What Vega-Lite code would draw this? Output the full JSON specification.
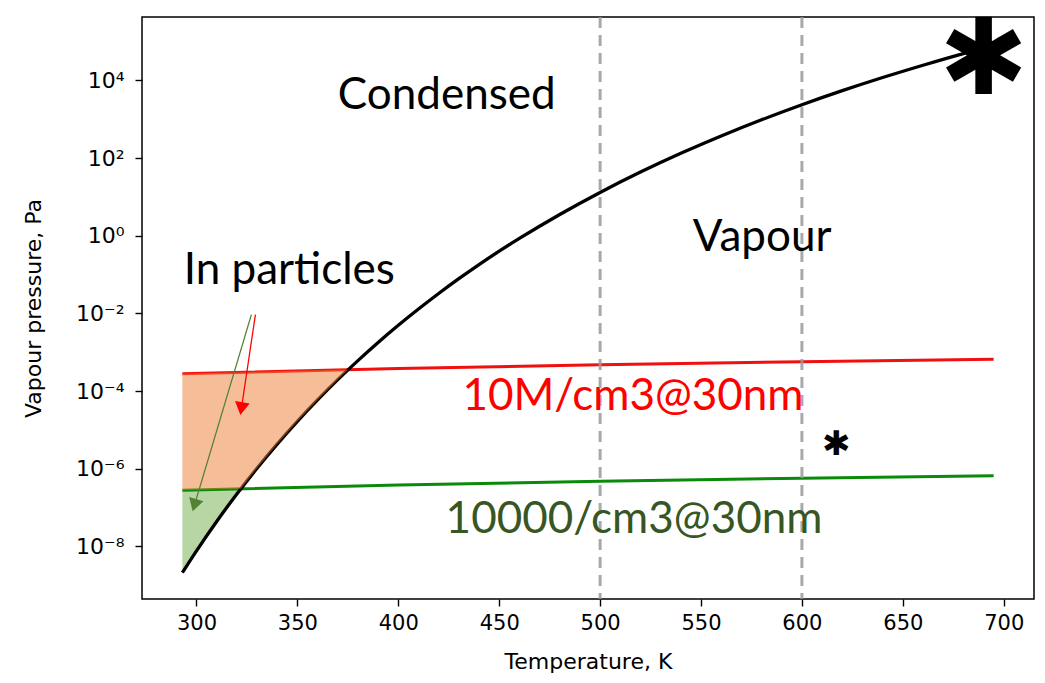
{
  "$schema": "https://vega.github.io/schema/vega-lite/v6.json",
  "width": 892,
  "height": 582,
  "autosize": {"type": "none"},
  "padding": {"left": 142, "top": 17, "right": 11, "bottom": 84},
  "background": "white",
  "config": {
    "view": {"stroke": "black", "strokeWidth": 1.5},
    "axis": {
      "grid": false,
      "domain": false,
      "tickColor": "black",
      "tickSize": 7,
      "tickWidth": 1.4,
      "labelColor": "black",
      "labelFont": "DejaVu Sans",
      "labelFontSize": 21,
      "titleFont": "DejaVu Sans",
      "titleFontSize": 22,
      "titleFontWeight": "normal",
      "titleColor": "black"
    }
  },
  "datasets": {
    "curve": [
      {"T": 293, "p": 2.10e-9}, {"T": 300, "p": 7.67e-9}, {"T": 310, "p": 4.39e-8},
      {"T": 320, "p": 2.23e-7}, {"T": 330, "p": 1.03e-6}, {"T": 340, "p": 4.31e-6},
      {"T": 350, "p": 1.66e-5}, {"T": 360, "p": 5.90e-5}, {"T": 370, "p": 1.96e-4},
      {"T": 380, "p": 6.08e-4}, {"T": 390, "p": 1.78e-3}, {"T": 400, "p": 4.92e-3},
      {"T": 410, "p": 1.29e-2}, {"T": 420, "p": 3.24e-2}, {"T": 430, "p": 7.80e-2},
      {"T": 440, "p": 0.180}, {"T": 450, "p": 0.400}, {"T": 460, "p": 0.849},
      {"T": 480, "p": 3.52}, {"T": 500, "p": 13.0}, {"T": 520, "p": 43.4},
      {"T": 540, "p": 132}, {"T": 560, "p": 369}, {"T": 580, "p": 962},
      {"T": 600, "p": 2350}, {"T": 620, "p": 5410}, {"T": 640, "p": 11800},
      {"T": 660, "p": 24500}, {"T": 680, "p": 48900}, {"T": 695, "p": 78000}
    ],
    "limits": [
      {"T": 293, "red": 2.79e-4, "green": 2.79e-7},
      {"T": 400, "red": 3.81e-4, "green": 3.81e-7},
      {"T": 500, "red": 4.76e-4, "green": 4.76e-7},
      {"T": 600, "red": 5.71e-4, "green": 5.71e-7},
      {"T": 695, "red": 6.62e-4, "green": 6.62e-7}
    ],
    "orangeFill": [
      {"T": 293, "top": 2.79e-4, "bottom": 2.79e-7},
      {"T": 300, "top": 2.857e-4, "bottom": 2.857e-7},
      {"T": 310, "top": 2.952e-4, "bottom": 2.952e-7},
      {"T": 322, "top": 3.066e-4, "bottom": 3.066e-7},
      {"T": 330, "top": 3.142e-4, "bottom": 1.03e-6},
      {"T": 340, "top": 3.238e-4, "bottom": 4.31e-6},
      {"T": 350, "top": 3.333e-4, "bottom": 1.66e-5},
      {"T": 360, "top": 3.428e-4, "bottom": 5.90e-5},
      {"T": 370, "top": 3.523e-4, "bottom": 1.96e-4},
      {"T": 375.2, "top": 3.573e-4, "bottom": 3.573e-4}
    ],
    "greenFill": [
      {"T": 293, "top": 2.79e-7, "bottom": 2.10e-9},
      {"T": 300, "top": 2.857e-7, "bottom": 7.67e-9},
      {"T": 310, "top": 2.952e-7, "bottom": 4.39e-8},
      {"T": 320, "top": 3.047e-7, "bottom": 2.23e-7},
      {"T": 322, "top": 3.066e-7, "bottom": 3.066e-7}
    ],
    "vlines": [{"T": 500}, {"T": 600}],
    "arrows": [
      {"arrow": "red", "T": 329.2, "p": 9.3e-3, "T2": 322.4, "p2": 4.0e-5, "angle": 188.9},
      {"arrow": "green", "T": 327.2, "p": 9.3e-3, "T2": 299.3, "p2": 1.3e-7, "angle": 196.7}
    ],
    "labels": [
      {"label": "Condensed", "group": "black", "T": 424, "p": 4000},
      {"label": "Vapour", "group": "black", "T": 580.3, "p": 0.85},
      {"label": "In particles", "group": "black", "T": 346, "p": 0.125},
      {"label": "10M/cm3@30nm", "group": "red", "T": 516.3, "p": 7.1e-5},
      {"label": "10000/cm3@30nm", "group": "green", "T": 516.8, "p": 4.9e-8}
    ],
    "stars": [
      {"label": "✱", "size": "big", "T": 690, "p": 30000},
      {"label": "✱", "size": "small", "T": 617, "p": 4.2e-6}
    ]
  },
  "encoding": {
    "x": {"field": "T", "type": "quantitative"},
    "y": {"field": "p", "type": "quantitative"}
  },
  "layer": [
    {
      "data": {"name": "greenFill"},
      "mark": {"type": "area", "color": "#70ad47", "opacity": 0.5},
      "encoding": {
        "x": {"field": "T", "type": "quantitative", "scale": {"domain": [273, 715], "nice": false, "zero": false},
              "axis": {"values": [300, 350, 400, 450, 500, 550, 600, 650, 700], "title": "Temperature, K", "titlePadding": 18, "labelPadding": 6}},
        "y": {"field": "top", "type": "quantitative", "scale": {"type": "log", "domain": [4.42e-10, 4.27e5], "nice": false},
              "axis": {"values": [1e-8, 1e-6, 1e-4, 1e-2, 1, 100, 10000], "title": "Vapour pressure, Pa", "titlePadding": 30, "labelPadding": 11, "labelFontSize": 22,
                       "labelExpr": "['10⁻⁸','','10⁻⁶','','10⁻⁴','','10⁻²','','10⁰','','10²','','10⁴'][round(log(datum.value)/LN10)+8]"}},
        "y2": {"field": "bottom"}
      }
    },
    {
      "data": {"name": "limits"},
      "mark": {"type": "line", "color": "#0a8a0a", "strokeWidth": 3},
      "encoding": {"y": {"field": "green", "type": "quantitative"}}
    },
    {
      "data": {"name": "limits"},
      "mark": {"type": "line", "color": "#f01010", "strokeWidth": 3},
      "encoding": {"y": {"field": "red", "type": "quantitative"}}
    },
    {
      "data": {"name": "curve"},
      "mark": {"type": "line", "color": "black", "strokeWidth": 3.3, "interpolate": "monotone"},
      "encoding": {}
    },
    {
      "data": {"name": "orangeFill"},
      "mark": {"type": "area", "color": "#ed7d31", "opacity": 0.5},
      "encoding": {
        "y": {"field": "top", "type": "quantitative"},
        "y2": {"field": "bottom"}
      }
    },
    {
      "data": {"name": "vlines"},
      "mark": {"type": "rule", "color": "#9a9a9a", "strokeWidth": 3, "strokeDash": [11, 7], "opacity": 0.85},
      "encoding": {"x": {"field": "T", "type": "quantitative"}, "y": null}
    },
    {
      "data": {"name": "arrows"},
      "mark": {"type": "rule", "strokeWidth": 1.3},
      "encoding": {
        "x2": {"field": "T2"},
        "y2": {"field": "p2"},
        "color": {"field": "arrow", "type": "nominal", "scale": {"domain": ["red", "green"], "range": ["#ff0000", "#548235"]}, "legend": null}
      }
    },
    {
      "data": {"name": "arrows"},
      "mark": {"type": "point", "shape": "triangle", "filled": true, "size": 220, "opacity": 1},
      "encoding": {
        "x": {"field": "T2", "type": "quantitative"},
        "y": {"field": "p2", "type": "quantitative"},
        "angle": {"field": "angle", "type": "quantitative", "scale": null},
        "color": {"field": "arrow", "type": "nominal", "scale": {"domain": ["red", "green"], "range": ["#ff0000", "#548235"]}, "legend": null}
      }
    },
    {
      "data": {"name": "labels"},
      "transform": [{"filter": "datum.group == 'black'"}],
      "mark": {"type": "text", "font": "Lato", "fontSize": 44, "align": "center", "baseline": "middle", "color": "#000000"},
      "encoding": {"text": {"field": "label"}}
    },
    {
      "data": {"name": "labels"},
      "transform": [{"filter": "datum.group == 'red'"}],
      "mark": {"type": "text", "font": "Lato", "fontSize": 44, "align": "center", "baseline": "middle", "color": "#ff0000"},
      "encoding": {"text": {"field": "label"}}
    },
    {
      "data": {"name": "labels"},
      "transform": [{"filter": "datum.group == 'green'"}],
      "mark": {"type": "text", "font": "Lato", "fontSize": 44, "align": "center", "baseline": "middle", "color": "#375623"},
      "encoding": {"text": {"field": "label"}}
    },
    {
      "data": {"name": "stars"},
      "transform": [{"filter": "datum.size == 'big'"}],
      "mark": {"type": "text", "font": "DejaVu Sans", "fontSize": 106, "fontWeight": "bold", "align": "center", "baseline": "middle", "color": "black"},
      "encoding": {"text": {"field": "label"}}
    },
    {
      "data": {"name": "stars"},
      "transform": [{"filter": "datum.size == 'small'"}],
      "mark": {"type": "text", "font": "DejaVu Sans", "fontSize": 34, "align": "center", "baseline": "middle", "color": "black"},
      "encoding": {"text": {"field": "label"}}
    }
  ]
}
